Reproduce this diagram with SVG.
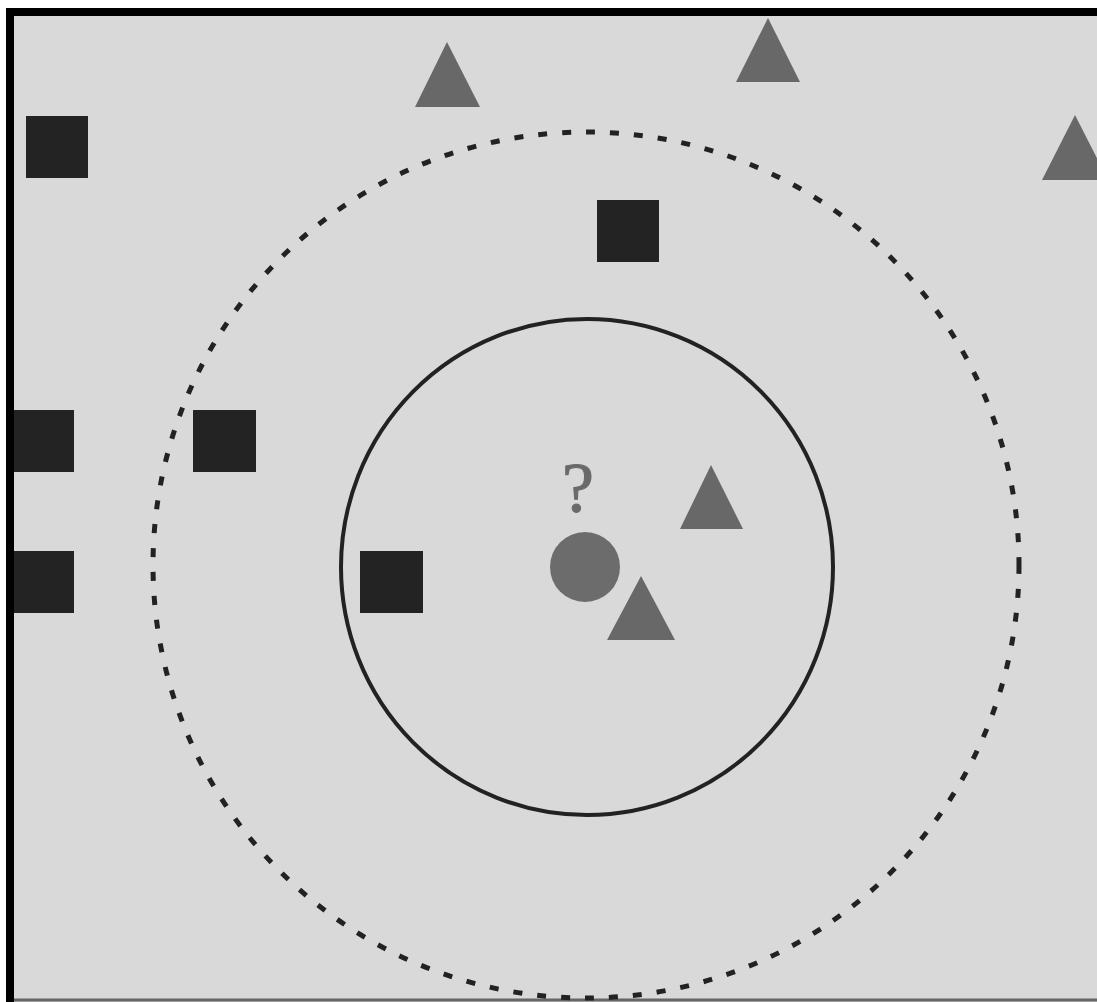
<svg xmlns="http://www.w3.org/2000/svg" width="1097" height="1002" viewBox="0 0 1097 1002">
<style>
.sq{fill:#232323}
.tri{fill:#686868}
</style>
<rect x="0" y="0" width="1097" height="1002" fill="#ffffff"/>
<rect x="10" y="12" width="1090" height="990" fill="#d9d9d9"/>
<line x1="10" y1="8" x2="10" y2="1002" stroke="#000" stroke-width="8"/>
<line x1="6" y1="12" x2="1097" y2="12" stroke="#000" stroke-width="8"/>
<line x1="14" y1="1000" x2="1097" y2="1000" stroke="#666" stroke-width="3"/>
<g id="circles">
<ellipse cx="586" cy="565" rx="433" ry="433" fill="none" stroke="#222" stroke-width="5" stroke-dasharray="9 15"/>
<ellipse cx="587" cy="567" rx="246" ry="248" fill="none" stroke="#222" stroke-width="4"/>
</g>
<g id="squares">
<rect class="sq" x="26" y="116" width="62" height="62"/>
<rect class="sq" x="597" y="200" width="62" height="62"/>
<rect class="sq" x="14" y="410" width="60" height="62"/>
<rect class="sq" x="193" y="410" width="63" height="62"/>
<rect class="sq" x="14" y="551" width="60" height="62"/>
<rect class="sq" x="360" y="551" width="63" height="62"/>
</g>
<g id="triangles">
<polygon class="tri" points="447,42 415,107 480,107"/>
<polygon class="tri" points="768,18 736,82 800,82"/>
<polygon class="tri" points="1075,115 1042,180 1108,180"/>
<polygon class="tri" points="711,465 680,529 743,529"/>
<polygon class="tri" points="641,576 607,640 675,640"/>
</g>
<g id="query">
<circle cx="585" cy="567" r="35" fill="#6c6c6c"/>
<text x="578" y="512" font-family="Liberation Serif, serif" font-size="72" fill="#6a6a6a" text-anchor="middle" stroke="#6a6a6a" stroke-width="1">?</text>
</g>
</svg>
